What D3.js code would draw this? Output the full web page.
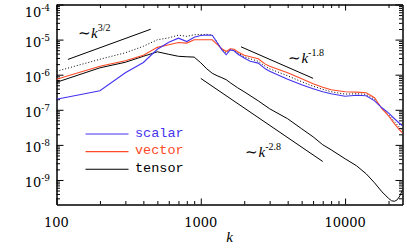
<!DOCTYPE html>
<html lang="en">
<head>
<meta charset="UTF-8">
<title>Spectra vs k</title>
<script src="https://d3js.org/d3.v7.min.js"></script>
<style>
  body { margin: 0; background: #fff; }
  svg { display: block; }
  .axis path, .axis line { stroke: #000; stroke-width: 1; }
</style>
</head>
<body>
<script>
const w = 407, h = 248;

// values
const kGrid = [100, 200, 300, 400, 500, 600, 700, 800, 900, 1000, 1100, 1200, 1300, 1400, 1500,
  1600, 1700, 1800, 2000, 2200, 2500, 2800, 3000, 4000, 5000, 6000, 7000, 8000, 10000, 12000,
  14000, 16000, 18000, 20000, 22000, 24000, 25000];
const scalar = [2.0e-7, 3.5e-7, 1.13e-6, 2.23e-6, 5.3e-6, 8.4e-6, 1.10e-5, 8.8e-6, 1.16e-5, 1.31e-5,
  1.35e-5, 1.33e-5, 8.1e-6, 5.1e-6, 3.7e-6, 5.1e-6, 4.8e-6, 3.9e-6, 3.0e-6, 2.41e-6, 2.14e-6,
  1.47e-6, 1.25e-6, 7.4e-7, 5.15e-7, 4.0e-7, 3.26e-7, 2.86e-7, 2.43e-7, 2.59e-7, 2.51e-7, 1.80e-7,
  1.14e-7, 8.2e-8, 5.55e-8, 4.0e-8, 3.5e-8];
const vector = [7.4e-7, 1.73e-6, 2.49e-6, 3.57e-6, 6.0e-6, 7.1e-6, 8.3e-6, 7.95e-6, 9.9e-6, 9.9e-6,
  9.9e-6, 9.9e-6, 7.35e-6, 5.47e-6, 4.58e-6, 5.47e-6, 5.3e-6, 4.49e-6, 3.57e-6, 3.24e-6, 2.84e-6,
  2.0e-6, 1.73e-6, 1.13e-6, 7.64e-7, 5.51e-7, 4.38e-7, 3.72e-7, 3.26e-7, 3.19e-7, 3.05e-7, 2.20e-7,
  1.07e-7, 6.75e-8, 3.99e-8, 2.61e-8, 2.21e-8];
const total = [1.25e-6, 2.75e-6, 4.21e-6, 6.44e-6, 9.9e-6, 1.12e-5, 1.34e-5, 1.24e-5, 1.37e-5, 1.40e-5,
  1.41e-5, 1.35e-5, 8.4e-6, 5.3e-6, 4.21e-6, 5.3e-6, 4.96e-6, 4.21e-6, 3.24e-6, 2.84e-6, 2.41e-6,
  1.73e-6, 1.47e-6, 9.3e-7, 6.3e-7, 4.7e-7, 3.84e-7, 3.26e-7, 2.80e-7, 2.86e-7, 2.77e-7, 1.99e-7,
  1.11e-7, 7.2e-8, 4.55e-8, 3.07e-8, 2.69e-8];

const kTensor = [100, 200, 300, 400, 500, 600, 700, 800, 900, 1000, 1100, 1200, 1300, 1400, 1500,
  1600, 1800, 2000, 2500, 3000, 4000, 5000, 6000, 7000, 8000, 10000, 12000, 14000, 16000, 18000,
  20000, 21000, 22000, 23000, 24000, 25000];
const tensor = [6.07e-7, 1.57e-6, 2.26e-6, 3.34e-6, 4.49e-6, 3.81e-6, 3.34e-6, 3.24e-6, 3.17e-6, 2.18e-6,
  1.47e-6, 1.10e-6, 9.3e-7, 8.2e-7, 7.2e-7, 5.9e-7, 4.24e-7, 3.26e-7, 1.80e-7, 1.07e-7,
  5.55e-8, 2.88e-8, 1.70e-8, 1.01e-8, 7.25e-9, 4.02e-9, 2.54e-9, 1.50e-9, 8.3e-10, 4.6e-10,
  3.0e-10, 2.55e-10, 2.47e-10, 2.73e-10, 3.55e-10, 5.26e-10];

// power-law guide lines (end points) and their labels
const guideK32 = [120, 450],   guideV32 = [2.72e-6, 1.975e-5];
const guideK18 = [1900, 6000], guideV18 = [6.23e-6, 7.87e-7];
const guideK28 = [1000, 7000], guideV28 = [7.82e-7, 3.37e-9];
const guideLabels = [
  {k: 141, v: 1.12e-5, exp: "3/2"},
  {k: 4050, v: 2.11e-6, exp: "-1.8"},
  {k: 2040, v: 4.58e-9, exp: "-2.8"}
];

const xMajor = [100, 1000, 10000];
const yExp = [-9, -8, -7, -6, -5, -4];
const legendNames = ["scalar", "vector", "tensor"];
const legendColors = ["#4433ee", "#ff4a26", "#000"];

const x = d3.scaleLog().domain([100, 25000]).range([56.5, 402.5]);
const y = d3.scaleLog().domain([2e-10, 1e-4]).range([204.5, 4.5]);

const xMinor = [];
[100, 1000, 10000].forEach(d => { for (let m = 2; m <= 9; m++) if (d * m <= 25000) xMinor.push(d * m); });
const yMinor = [];
for (let e = -10; e <= -5; e++) for (let m = 2; m <= 9; m++) {
  const v = m * Math.pow(10, e);
  if (v > 2e-10 && v < 1e-4) yMinor.push(v);
}
const yMajor = yExp.map(e => Math.pow(10, e));

const svg = d3.select("body").append("svg")
  .attr("width", w).attr("height", h);

svg.append("defs").append("clipPath").attr("id", "plot")
  .append("rect").attr("x", 56.5).attr("y", 4.5).attr("width", 346).attr("height", 200);

// axes, ticks pointing inward on all four sides
function drawAxis(axis, tr, values, len) {
  svg.append("g").attr("class", "axis").attr("transform", tr)
    .call(axis.tickValues(values).tickSizeInner(-len).tickSizeOuter(0).tickFormat(""));
}
drawAxis(d3.axisBottom(x), "translate(0,204.5)", xMajor, 6);
drawAxis(d3.axisBottom(x), "translate(0,204.5)", xMinor, 3.5);
drawAxis(d3.axisTop(x), "translate(0,4.5)", xMajor, 6);
drawAxis(d3.axisTop(x), "translate(0,4.5)", xMinor, 3.5);
drawAxis(d3.axisLeft(y), "translate(56.5,0)", yMajor, 7);
drawAxis(d3.axisLeft(y), "translate(56.5,0)", yMinor, 3.5);
drawAxis(d3.axisRight(y), "translate(402.5,0)", yMajor, 7);
drawAxis(d3.axisRight(y), "translate(402.5,0)", yMinor, 3.5);

const labelFont = "DejaVu Serif";

svg.append("g").selectAll("text").data(xMajor).enter().append("text")
  .attr("x", d => x(d)).attr("y", 227)
  .attr("text-anchor", "middle")
  .attr("font-family", labelFont).attr("font-size", 13)
  .text(d => d);

const yl = svg.append("g").selectAll("text").data(yExp).enter().append("text")
  .attr("x", 50).attr("y", d => y(Math.pow(10, d)) + (d === -4 ? 12 : 7))
  .attr("text-anchor", "end")
  .attr("font-family", labelFont).attr("font-size", 13);
yl.append("tspan").text("10");
yl.append("tspan").attr("dy", -6).attr("font-size", 9).text(d => "-" + (-d));

svg.append("text").attr("x", (56.5 + 402.5) / 2).attr("y", 241.5)
  .attr("text-anchor", "middle")
  .attr("font-family", "Liberation Serif").attr("font-style", "italic").attr("font-size", 15)
  .text("k");

// curves
const line = d3.line().x(d => x(d[0])).y(d => y(d[1]));
const plot = svg.append("g").attr("clip-path", "url(#plot)");

plot.append("path").datum(d3.zip(kGrid, total))
  .attr("d", line).attr("fill", "none")
  .attr("stroke", "#000").attr("stroke-width", 1).attr("stroke-dasharray", "1,2");
plot.append("path").datum(d3.zip(kTensor, tensor))
  .attr("d", line).attr("fill", "none").attr("stroke", legendColors[2]).attr("stroke-width", 1);
plot.append("path").datum(d3.zip(kGrid, vector))
  .attr("d", line).attr("fill", "none").attr("stroke", legendColors[1]).attr("stroke-width", 1.1);
plot.append("path").datum(d3.zip(kGrid, scalar))
  .attr("d", line).attr("fill", "none").attr("stroke", legendColors[0]).attr("stroke-width", 1.1);

// guide lines
[[guideK32, guideV32], [guideK18, guideV18], [guideK28, guideV28]].forEach(g => {
  plot.append("path").datum(d3.zip(g[0], g[1]))
    .attr("d", line).attr("fill", "none").attr("stroke", "#000").attr("stroke-width", 1);
});

const gl = svg.append("g").selectAll("text").data(guideLabels).enter().append("text")
  .attr("x", d => x(d.k)).attr("y", d => y(d.v))
  .attr("font-family", "Liberation Serif").attr("font-size", 15);
gl.append("tspan").text("\u223C");
gl.append("tspan").attr("font-style", "italic").text("k");
gl.append("tspan").attr("dy", -7).attr("font-size", 10).text(d => d.exp);

// legend
const leg = svg.append("g").selectAll("g").data(legendNames).enter().append("g")
  .attr("transform", (d, i) => `translate(0,${134 + i * 17.6})`);
leg.append("line").attr("x1", 85.5).attr("x2", 128.5)
  .attr("stroke", (d, i) => legendColors[i]).attr("stroke-width", 1.1);
leg.append("text").attr("x", 135).attr("y", 2.5)
  .attr("font-family", "Liberation Mono").attr("font-size", 13.5)
  .attr("fill", (d, i) => legendColors[i])
  .text(d => d);
</script>
</body>
</html>
